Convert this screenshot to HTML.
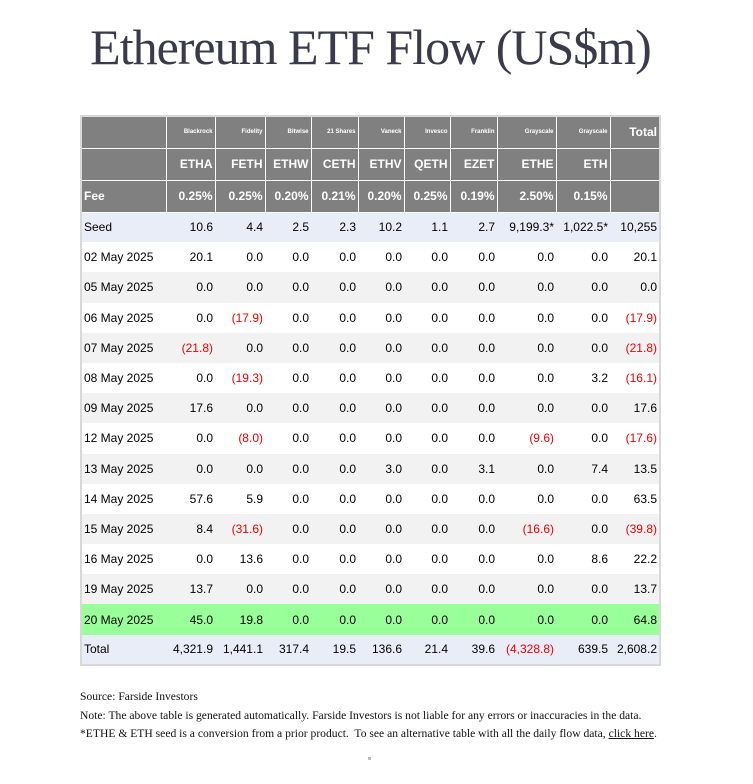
<!DOCTYPE html>
<html><head><meta charset="utf-8"><style>
body{margin:0;background:#fff;width:753px;height:784px;position:relative;overflow:hidden}
h1{position:absolute;left:-6px;width:753px;top:18px;margin:0;text-align:center;font:50px "Liberation Serif",serif;color:#3a3a4a;letter-spacing:-1px}
table{position:absolute;left:80px;top:115px;border-collapse:collapse;font:12px "Liberation Sans",sans-serif;border:2px solid #d8d8d8;table-layout:fixed}
td{padding:0 2px;text-align:right;white-space:nowrap;height:30.2px;box-sizing:border-box}
td:first-child{text-align:left}
tr.h td{background:#808080;color:#fff;font-weight:bold;border:1px solid #fff;height:32px}
tr.h1 td{font-size:6px;vertical-align:middle}
tr.h1 td.tot{font-size:12px;vertical-align:top;padding-top:8px}
.s{background:#e9edf8}.g{background:#f2f2f2}.w{background:#fff}.gr{background:#99ff99}
.n{color:#e00}
.f{position:absolute;left:80px;font:11.6px "Liberation Serif",serif;color:#111;white-space:nowrap}
.f a{color:#111;text-decoration:underline}
</style></head><body>
<h1>Ethereum ETF Flow (US$m)</h1>
<table>
<colgroup><col style="width:85px"><col style="width:49px"><col style="width:50px"><col style="width:46px"><col style="width:47px"><col style="width:46px"><col style="width:46px"><col style="width:47px"><col style="width:59px"><col style="width:54px"><col style="width:50px"></colgroup>
<tbody id="tb"></tbody></table>
<div class="f" style="top:690px">Source: Farside Investors</div>
<div class="f" style="top:709px">Note: The above table is generated automatically. Farside Investors is not liable for any errors or inaccuracies in the data.</div>
<div class="f" style="top:727px">*ETHE &amp; ETH seed is a conversion from a prior product.&nbsp; To see an alternative table with all the daily flow data, <a>click here</a>.</div>
<div style="position:absolute;left:368px;top:757px;width:3px;height:3px;background:#bbb"></div>
<script>
const issuers=["Blackrock","Fidelity","Bitwise","21 Shares","Vaneck","Invesco","Franklin","Grayscale","Grayscale"];
const tickers=["ETHA","FETH","ETHW","CETH","ETHV","QETH","EZET","ETHE","ETH"];
const fees=["0.25%","0.25%","0.20%","0.21%","0.20%","0.25%","0.19%","2.50%","0.15%"];
const dates=["Seed","02 May 2025","05 May 2025","06 May 2025","07 May 2025","08 May 2025","09 May 2025","12 May 2025","13 May 2025","14 May 2025","15 May 2025","16 May 2025","19 May 2025","20 May 2025","Total"];
const values=[
["10.6","4.4","2.5","2.3","10.2","1.1","2.7","9,199.3*","1,022.5*","10,255"],
["20.1","0.0","0.0","0.0","0.0","0.0","0.0","0.0","0.0","20.1"],
["0.0","0.0","0.0","0.0","0.0","0.0","0.0","0.0","0.0","0.0"],
["0.0","(17.9)","0.0","0.0","0.0","0.0","0.0","0.0","0.0","(17.9)"],
["(21.8)","0.0","0.0","0.0","0.0","0.0","0.0","0.0","0.0","(21.8)"],
["0.0","(19.3)","0.0","0.0","0.0","0.0","0.0","0.0","3.2","(16.1)"],
["17.6","0.0","0.0","0.0","0.0","0.0","0.0","0.0","0.0","17.6"],
["0.0","(8.0)","0.0","0.0","0.0","0.0","0.0","(9.6)","0.0","(17.6)"],
["0.0","0.0","0.0","0.0","3.0","0.0","3.1","0.0","7.4","13.5"],
["57.6","5.9","0.0","0.0","0.0","0.0","0.0","0.0","0.0","63.5"],
["8.4","(31.6)","0.0","0.0","0.0","0.0","0.0","(16.6)","0.0","(39.8)"],
["0.0","13.6","0.0","0.0","0.0","0.0","0.0","0.0","8.6","22.2"],
["13.7","0.0","0.0","0.0","0.0","0.0","0.0","0.0","0.0","13.7"],
["45.0","19.8","0.0","0.0","0.0","0.0","0.0","0.0","0.0","64.8"],
["4,321.9","1,441.1","317.4","19.5","136.6","21.4","39.6","(4,328.8)","639.5","2,608.2"]];
const tb=document.getElementById('tb');
function hrow(cls,first,arr,last,name){
  const tr=document.createElement('tr');tr.className='h '+cls;
  
  
  [first,...arr,last].forEach((t,i)=>{const td=document.createElement('td');td.textContent=t;
    if(i==arr.length+1&&t)td.className='tot';
    
    
    tr.appendChild(td);});
  tb.appendChild(tr);
}
hrow('h1','',issuers,'Total','issuer-header-row');
hrow('h2','',tickers,'','ticker-header-row');
hrow('h3','Fee',fees,'','fee-row');
dates.forEach((d,r)=>{
  const tr=document.createElement('tr');
  tr.className=(r==0||r==dates.length-1)?'s':(r==13?'gr':(r%2==0?'g':'w'));
  
  
  [d,...values[r]].forEach(v=>{const td=document.createElement('td');td.textContent=v;
    if(v.startsWith('('))td.className='n';
    
    
    tr.appendChild(td);});
  tb.appendChild(tr);
});
</script>
</body></html>
